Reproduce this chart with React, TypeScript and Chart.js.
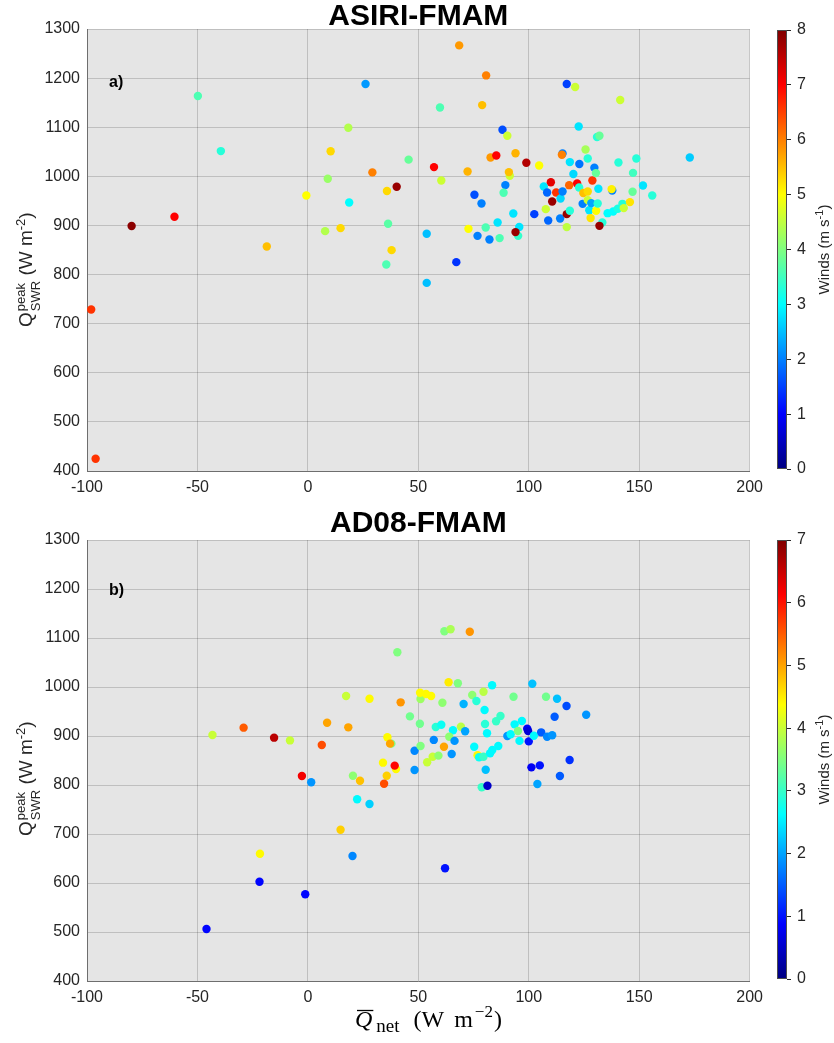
import React, { useEffect, useRef } from 'react';
import { Chart, registerables } from 'chart.js';

Chart.register(...registerables);

const SANS = '"Liberation Sans", Arial, Helvetica, sans-serif';
const SERIF = '"Liberation Serif", "Times New Roman", serif';

// ---------------- data ----------------
const xTickValues = [-100, -50, 0, 50, 100, 150, 200];
const yTickValues = [400, 500, 600, 700, 800, 900, 1000, 1100, 1200, 1300];
const windTicksA = [0, 1, 2, 3, 4, 5, 6, 7, 8];
const windTicksB = [0, 1, 2, 3, 4, 5, 6, 7];

// Panel a) ASIRI-FMAM
const asiriQnet = [-98.1, -96.1, -79.8, -60.4, -49.8, -39.4, -18.6, -0.7, 7.8, 9, 10.3, 14.8, 18.3, 18.7, 26.1, 29.2, 35.5, 35.8, 36.3, 37.9, 40.2, 45.6, 53.8, 53.8, 57.1, 59.8, 60.4, 67.2, 68.5, 72.3, 72.7, 75.4, 76.8, 78.6, 78.9, 80.5, 80.7, 82.2, 82.7, 85.3, 85.9, 86.8, 88.1, 89.4, 88.6, 90.3, 91.4, 91, 93, 94, 95.2, 95.7, 94, 98.9, 102.5, 104.7, 106.8, 107.7, 108.3, 108.8, 110, 110.6, 112.4, 114.2, 114.4, 115.3, 115.3, 115, 117.2, 117.2, 118.6, 117.2, 118.3, 118.6, 120.2, 121, 121.9, 122.6, 122.8, 122.9, 124.4, 124.7, 125.7, 126.7, 126.7, 126.7, 127.4, 128, 128.3, 128.8, 129.7, 130.4, 130.5, 130.9, 132, 131.2, 131.5, 133.3, 132, 135.7, 137.8, 137.5, 138.2, 140.3, 140.6, 141.4, 142.4, 143, 145.8, 147, 147.2, 148.7, 151.7, 155.9, 172.9];
const asiriQswr = [728.7, 425, 899, 917.6, 1163.5, 1051.4, 857, 961, 888.4, 995, 1051, 894.5, 1099, 946.7, 1188, 1008, 820.4, 970, 903.3, 849.7, 978.7, 1034, 883, 783, 1018.8, 1140.3, 991.5, 825.3, 1266.6, 1009.9, 893.1, 962.4, 878.8, 944.7, 1145, 895.8, 1205.5, 871.3, 1038.4, 1042.5, 906, 874.2, 1094.8, 982.1, 966.5, 1082.6, 1001, 1008.6, 924.3, 1047, 878.8, 897, 886.4, 1027.6, 923, 1022, 979.3, 933.2, 967, 910, 988, 948.7, 967, 914, 955, 969, 1046.5, 1044, 1188, 923, 930, 896.6, 982, 1029, 1004.6, 1181.8, 985.4, 1101.6, 977.4, 1025, 944, 966, 1054.7, 1036.3, 969, 951.6, 931, 915, 945.5, 991.5, 1017.4, 1006.6, 930, 1080, 1082.6, 944.7, 974.6, 906, 899.2, 925, 971, 974, 928.4, 934, 1028.2, 1155.3, 944, 935.3, 947.5, 968.5, 1007, 1036.4, 981.3, 961, 1038.4];
const asiriWinds = [6.6, 6.6, 7.9, 7.0, 3.6, 3.3, 5.5, 5.0, 4.4, 4.2, 5.3, 5.3, 4.4, 3.0, 2.2, 6.0, 3.6, 5.3, 3.7, 5.3, 7.8, 3.8, 2.5, 2.5, 7.0, 3.6, 4.6, 1.4, 5.8, 5.6, 5.0, 1.6, 2.0, 2.0, 5.5, 3.6, 6.0, 2.0, 5.8, 7.0, 2.8, 3.6, 1.6, 2.0, 3.6, 4.6, 4.6, 5.5, 2.8, 5.6, 3.4, 2.8, 7.8, 7.6, 1.5, 5.0, 2.8, 4.6, 1.8, 1.8, 7.2, 7.8, 6.6, 2.0, 2.7, 2.0, 2.0, 6.0, 1.5, 7.8, 3.3, 4.5, 6.2, 2.8, 2.7, 4.6, 7.0, 2.8, 3.3, 1.9, 2.0, 5.5, 4.3, 3.3, 5.3, 4.6, 2.8, 5.2, 2.3, 6.6, 2.0, 3.8, 5.0, 3.3, 3.8, 3.3, 2.8, 3.3, 7.8, 3.0, 2.0, 5.1, 3.0, 3.2, 3.3, 4.6, 3.3, 4.6, 5.2, 3.8, 3.5, 3.3, 2.8, 3.3, 2.6];

// Panel b) AD08-FMAM
const ad08Qnet = [40.5, 17.3, 27.9, 42, 46.2, -43.2, -29.1, -15.3, -8.1, 8.7, 18.3, 6.3, 37.8, 36, 37.2, 34, 39.9, 39.3, 35.7, 34.5, 20.4, 23.6, -2.7, 1.5, 22.3, 27.9, 14.8, 20.2, -21.7, -21.9, -1.2, -45.9, 48.3, 48.3, 62.1, 51, 54, 56.5, 59.1, 61.6, 65.1, 75.3, 76.8, 77.5, 79.5, 82.5, 83.5, 86.2, 80.5, 78.7, 81.3, 101.2, 105, 103.9, 114.1, 118.5, 61.8, 64.6, 73.3, 63.7, 67.9, 83.4, 101.6, 51, 50.8, 53.5, 55.8, 60.9, 70.5, 74.4, 79.5, 76.3, 80, 93.1, 107.8, 112.8, 117.1, 126, 111.7, 50.7, 57.9, 60.4, 69.3, 65.7, 71.2, 64, 57, 66.4, 80.2, 81.1, 85.2, 87.2, 90.3, 91.8, 93.6, 96.9, 95.1, 95.8, 99.3, 99.7, 100, 102.3, 105.6, 108.3, 110.6];
const ad08Qswr = [1070.8, 981.6, 976, 968.7, 940, 902, 917, 896.6, 891, 927, 917.7, 881.6, 884.4, 897.3, 884.4, 845.6, 832.7, 839.5, 819, 802.7, 819, 808.8, 818.4, 805.5, 770.8, 761.2, 708.8, 655.1, 659.8, 602.7, 576.9, 506.1, 870, 830.6, 630, 879.6, 846.3, 857.8, 859.9, 878.2, 863.3, 878.2, 860.6, 856.5, 857.8, 864.7, 871.4, 879.6, 831.2, 795.3, 798.6, 836, 840, 802, 818.4, 851, 1113.7, 1117.8, 1112.9, 1009.6, 1007.6, 1003.5, 1006.7, 975.5, 988.4, 985.7, 981.6, 968, 965.3, 983.7, 990.4, 971.4, 953, 980.2, 980.2, 976.1, 961.2, 943.5, 939.4, 925, 918.4, 923, 919, 911.6, 909.6, 898.6, 892, 890, 924.5, 905.5, 930, 940.8, 900, 903.5, 923.8, 930.6, 910.2, 890, 914.9, 910, 889, 900.6, 907.5, 898.6, 901.4];
const ad08Winds = [3.5, 4.0, 4.4, 5.1, 3.4, 4.0, 5.5, 6.6, 4.0, 5.0, 5.0, 5.6, 3.5, 4.4, 5.0, 4.4, 4.4, 6.1, 4.7, 5.6, 3.6, 4.8, 6.2, 1.9, 2.6, 2.3, 4.7, 1.8, 4.4, 0.9, 0.9, 0.9, 1.8, 1.9, 1.0, 3.5, 4.0, 4.0, 3.6, 5.0, 1.9, 2.6, 4.4, 2.7, 3.0, 2.6, 2.6, 2.6, 2.2, 3.0, 0.5, 0.8, 1.0, 2.0, 1.5, 1.2, 3.5, 3.8, 5.1, 4.5, 3.5, 2.6, 2.2, 3.7, 4.4, 4.4, 4.4, 3.6, 2.1, 3.6, 3.9, 2.9, 2.6, 3.4, 3.4, 2.2, 1.4, 1.9, 1.5, 3.4, 2.9, 2.7, 3.9, 2.6, 2.0, 3.6, 1.8, 1.9, 2.9, 2.6, 3.0, 3.0, 1.9, 2.6, 2.6, 2.6, 3.5, 2.6, 0.8, 0.6, 1.0, 2.6, 1.5, 1.8, 1.9];

// ---------------- helpers ----------------
function clamp01(v: number) {
  return Math.max(0, Math.min(1, v));
}
function jet(t: number) {
  const u = clamp01(t);
  const r = clamp01(1.5 - Math.abs(4 * u - 3));
  const g = clamp01(1.5 - Math.abs(4 * u - 2));
  const b = clamp01(1.5 - Math.abs(4 * u - 1));
  return `rgb(${Math.round(r * 255)},${Math.round(g * 255)},${Math.round(b * 255)})`;
}

const TICK_COLOR = '#262626';
const GRID_COLOR = 'rgba(38,38,38,0.2)';

type PanelProps = {
  top: number;
  height: number;
  padTop: number;
  xAxisH: number;
  qnet: number[];
  qswr: number[];
  winds: number[];
  wmax: number;
  title: string;
  titleBaseline: number;
  tag: string;
  tagBaseline: number;
  yLabelStart: number;
  showXTitle: boolean;
};

function Panel(p: PanelProps) {
  const ref = useRef<HTMLCanvasElement | null>(null);
  useEffect(() => {
    const canvas = ref.current!;
    const deco = {
      id: 'deco',
      beforeDraw(chart: any) {
        const { ctx, chartArea: a } = chart;
        ctx.save();
        ctx.fillStyle = '#e5e5e5';
        ctx.fillRect(a.left, a.top, a.right - a.left, a.bottom - a.top);
        ctx.restore();
      },
      afterDraw(chart: any) {
        const { ctx, chartArea: a } = chart;
        ctx.save();
        ctx.fillStyle = '#000';
        ctx.textBaseline = 'alphabetic';
        ctx.textAlign = 'center';
        ctx.font = `bold 30px ${SANS}`;
        ctx.fillText(p.title, (a.left + a.right) / 2, p.titleBaseline);
        ctx.textAlign = 'left';
        ctx.font = `bold 16px ${SANS}`;
        ctx.fillText(p.tag, 109, p.tagBaseline);
        ctx.restore();

        // y-axis label
        ctx.save();
        ctx.fillStyle = TICK_COLOR;
        ctx.textBaseline = 'alphabetic';
        ctx.textAlign = 'left';
        ctx.translate(31.5, p.yLabelStart);
        ctx.rotate(-Math.PI / 2);
        let x = 0;
        ctx.font = `19px ${SANS}`;
        ctx.fillText('Q', x, 0);
        x += ctx.measureText('Q').width + 1;
        ctx.font = `13px ${SANS}`;
        ctx.fillText('peak', x, -7);
        const w1 = ctx.measureText('peak').width;
        ctx.fillText('SWR', x, 8);
        const w2 = ctx.measureText('SWR').width;
        x += Math.max(w1, w2);
        ctx.font = `19px ${SANS}`;
        ctx.fillText(' (W m', x, 0);
        x += ctx.measureText(' (W m').width;
        ctx.font = `13px ${SANS}`;
        ctx.fillText('-2', x, -7);
        x += ctx.measureText('-2').width;
        ctx.font = `19px ${SANS}`;
        ctx.fillText(')', x, 0);
        ctx.restore();

        if (p.showXTitle) {
          ctx.save();
          ctx.fillStyle = '#000';
          ctx.strokeStyle = '#000';
          ctx.textBaseline = 'alphabetic';
          ctx.textAlign = 'left';
          const base = a.bottom + 46;
          let xx = 355;
          ctx.font = `italic 24px ${SERIF}`;
          ctx.fillText('Q', xx, base);
          const qw = ctx.measureText('Q').width;
          ctx.lineWidth = 1.3;
          ctx.beginPath();
          ctx.moveTo(xx + 2, base - 16.5);
          ctx.lineTo(xx + qw + 1, base - 16.5);
          ctx.stroke();
          xx += qw + 4;
          ctx.font = `19px ${SERIF}`;
          ctx.fillText('net', xx, base + 5);
          xx += ctx.measureText('net').width + 14;
          ctx.font = `24px ${SERIF}`;
          ctx.fillText('(W', xx, base);
          xx += ctx.measureText('(W').width + 10;
          ctx.fillText('m', xx, base);
          xx += ctx.measureText('m').width + 2;
          ctx.font = `17px ${SERIF}`;
          ctx.fillText('\u22122', xx, base - 10);
          xx += ctx.measureText('\u22122').width + 1;
          ctx.font = `24px ${SERIF}`;
          ctx.fillText(')', xx, base);
          ctx.restore();
        }
      },
    };

    const chart = new Chart(canvas, {
      type: 'scatter',
      data: {
        datasets: [
          {
            data: p.qnet.map((v, i) => ({ x: v, y: p.qswr[i] })),
            backgroundColor: (c: any) => jet(p.winds[c.dataIndex] / p.wmax),
            borderWidth: 0,
            pointRadius: 4.2,
            pointHoverRadius: 4.2,
          },
        ],
      },
      options: {
        responsive: false,
        animation: false,
        events: [],
        layout: { padding: { top: p.padTop, left: 0, right: 16, bottom: 0 } },
        plugins: { legend: { display: false }, tooltip: { enabled: false }, title: { display: false } },
        scales: {
          x: {
            type: 'linear',
            min: -100,
            max: 200,
            afterBuildTicks: (s: any) => {
              s.ticks = xTickValues.map((v) => ({ value: v }));
            },
            afterFit: (s: any) => {
              s.height = p.xAxisH;
            },
            ticks: {
              font: { family: SANS, size: 16 },
              color: TICK_COLOR,
              padding: 7,
              maxRotation: 0,
              autoSkip: false,
              callback: (v: any) => String(v),
            },
            grid: { color: GRID_COLOR, lineWidth: 1, drawTicks: false },
            border: { display: true, color: '#6e6e6e', width: 1 },
          },
          y: {
            type: 'linear',
            min: 400,
            max: 1300,
            afterBuildTicks: (s: any) => {
              s.ticks = yTickValues.map((v) => ({ value: v }));
            },
            afterFit: (s: any) => {
              s.width = 87;
            },
            ticks: {
              font: { family: SANS, size: 16 },
              color: TICK_COLOR,
              padding: 7,
              autoSkip: false,
              callback: (v: any) => String(v),
            },
            grid: { color: GRID_COLOR, lineWidth: 1, drawTicks: false },
            border: { display: true, color: '#6e6e6e', width: 1 },
          },
        },
      } as any,
      plugins: [deco],
    });
    return () => chart.destroy();
  }, []);
  return (
    <div style={{ position: 'absolute', left: 0, top: p.top, width: 770, height: p.height }}>
      <canvas ref={ref} width={770} height={p.height} style={{ display: 'block' }} />
    </div>
  );
}

type BarProps = {
  top: number;
  height: number;
  padTop: number;
  padBottom: number;
  wmax: number;
  ticks: number[];
};

function ColorBar(p: BarProps) {
  const ref = useRef<HTMLCanvasElement | null>(null);
  useEffect(() => {
    const canvas = ref.current!;
    const bar = {
      id: 'bar',
      beforeDraw(chart: any) {
        const { ctx, chartArea: a } = chart;
        ctx.save();
        const g = ctx.createLinearGradient(0, a.bottom, 0, a.top);
        for (let i = 0; i <= 64; i++) {
          g.addColorStop(i / 64, jet(i / 64));
        }
        ctx.fillStyle = g;
        ctx.fillRect(a.left, a.top, a.right - a.left, a.bottom - a.top);
        ctx.strokeStyle = '#4d4d4d';
        ctx.lineWidth = 1;
        ctx.strokeRect(a.left + 0.5, a.top + 0.5, a.right - a.left - 1, a.bottom - a.top - 1);
        ctx.restore();
      },
      afterDraw(chart: any) {
        const { ctx, chartArea: a } = chart;
        ctx.save();
        ctx.fillStyle = TICK_COLOR;
        ctx.textBaseline = 'alphabetic';
        ctx.textAlign = 'left';
        const parts: [string, string, number][] = [
          ['Winds (m s', `15px ${SANS}`, 0],
          ['-1', `11px ${SANS}`, -6],
          [')', `15px ${SANS}`, 0],
        ];
        let total = 0;
        for (const [t, f] of parts) {
          ctx.font = f;
          total += ctx.measureText(t).width;
        }
        ctx.translate(59, (a.top + a.bottom) / 2 + total / 2);
        ctx.rotate(-Math.PI / 2);
        let x = 0;
        for (const [t, f, dy] of parts) {
          ctx.font = f;
          ctx.fillText(t, x, dy);
          x += ctx.measureText(t).width;
        }
        ctx.restore();
      },
    };
    const chart = new Chart(canvas, {
      type: 'scatter',
      data: { datasets: [] },
      options: {
        responsive: false,
        animation: false,
        events: [],
        layout: { padding: { top: p.padTop, bottom: p.padBottom, left: 7, right: 0 } },
        plugins: { legend: { display: false }, tooltip: { enabled: false } },
        scales: {
          x: { display: false, min: 0, max: 1 },
          y: {
            position: 'right',
            min: 0,
            max: p.wmax,
            afterBuildTicks: (s: any) => {
              s.ticks = p.ticks.map((v) => ({ value: v }));
            },
            afterFit: (s: any) => {
              s.width = 47;
            },
            ticks: {
              font: { family: SANS, size: 16 },
              color: TICK_COLOR,
              padding: 6,
              autoSkip: false,
              callback: (v: any) => String(v),
            },
            grid: { drawOnChartArea: false, drawTicks: true, tickLength: 4, color: TICK_COLOR, lineWidth: 1 },
            border: { display: false },
          },
        },
      } as any,
      plugins: [bar],
    });
    return () => chart.destroy();
  }, []);
  return (
    <div style={{ position: 'absolute', left: 770, top: p.top, width: 64, height: p.height }}>
      <canvas ref={ref} width={64} height={p.height} style={{ display: 'block' }} />
    </div>
  );
}

export default function App() {
  return (
    <div style={{ position: 'absolute', left: 0, top: 0, width: 834, height: 1043, background: '#fff', overflow: 'hidden' }}>
      <Panel
        top={0}
        height={500}
        padTop={29}
        xAxisH={29}
        qnet={asiriQnet}
        qswr={asiriQswr}
        winds={asiriWinds}
        wmax={8}
        title="ASIRI-FMAM"
        titleBaseline={25}
        tag="a)"
        tagBaseline={87}
        yLabelStart={327}
        showXTitle={false}
      />
      <ColorBar top={0} height={500} padTop={30} padBottom={31} wmax={8} ticks={windTicksA} />
      <Panel
        top={500}
        height={543}
        padTop={40}
        xAxisH={62}
        qnet={ad08Qnet}
        qswr={ad08Qswr}
        winds={ad08Winds}
        wmax={7}
        title="AD08-FMAM"
        titleBaseline={31.5}
        tag="b)"
        tagBaseline={94.7}
        yLabelStart={336}
        showXTitle={true}
      />
      <ColorBar top={500} height={543} padTop={40} padBottom={64} wmax={7} ticks={windTicksB} />
    </div>
  );
}
